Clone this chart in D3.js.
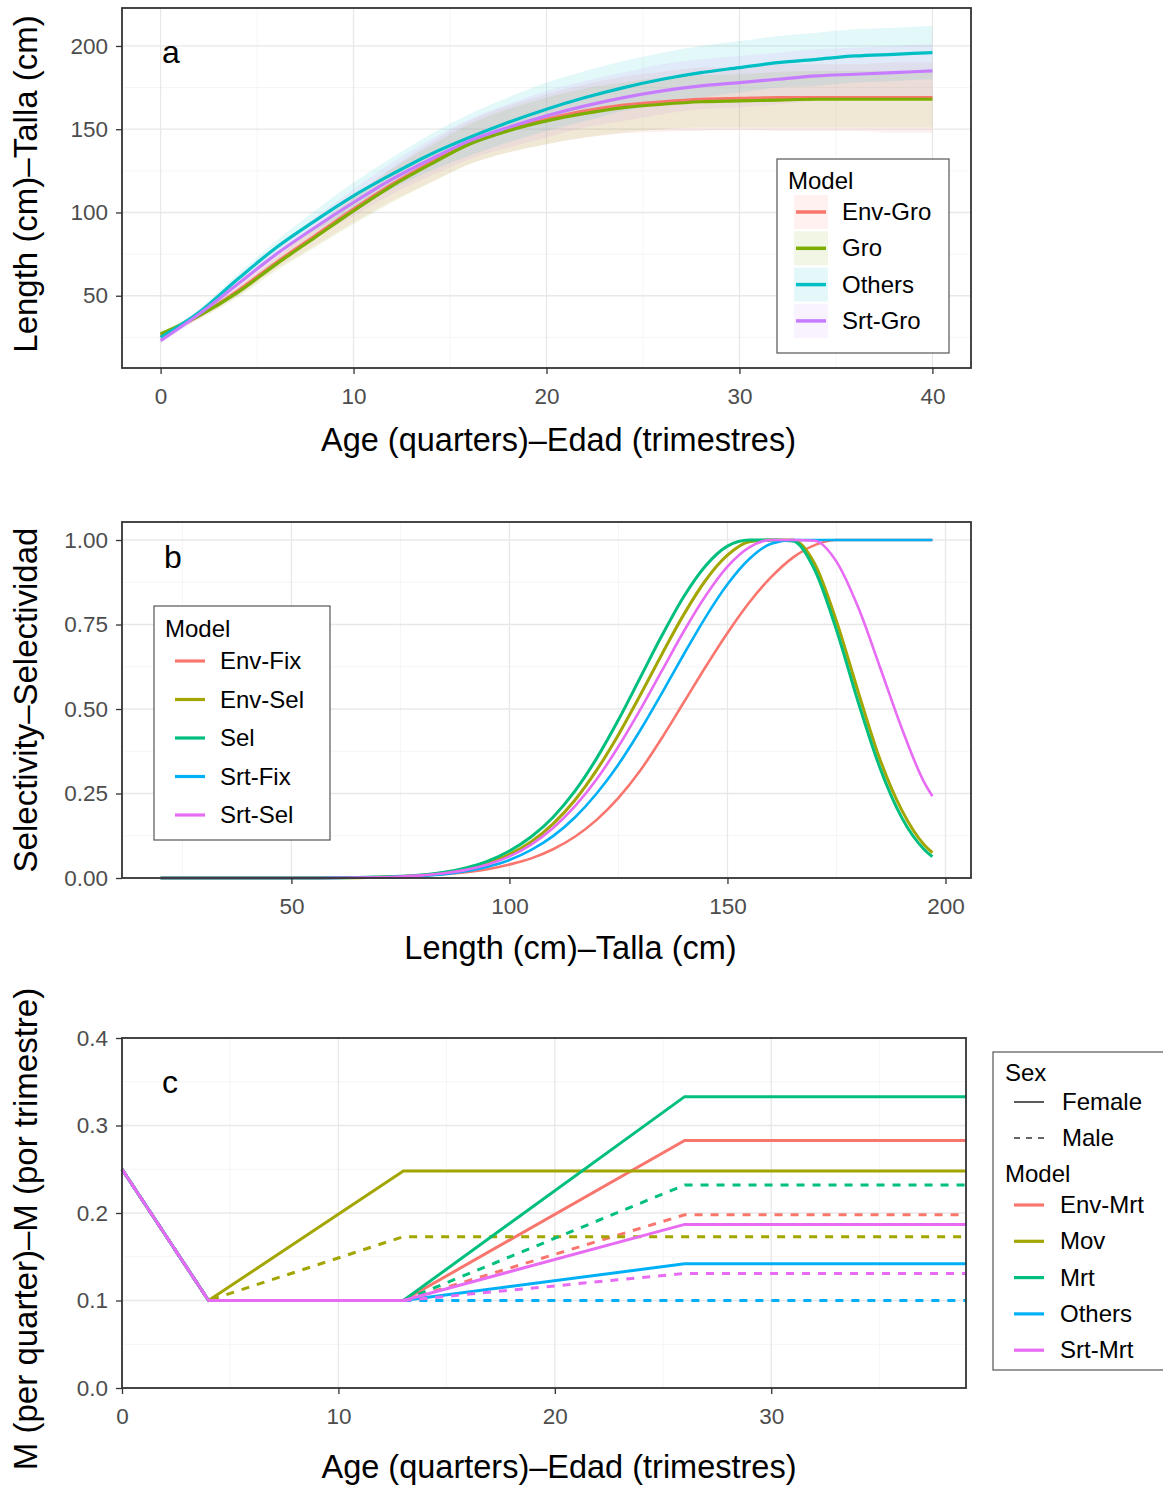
<!DOCTYPE html>
<html>
<head>
<meta charset="utf-8">
<script src="https://cdn.jsdelivr.net/npm/d3@7"></script>
<style>
  body { margin: 0; background: #fff; }
  text { font-family: "Liberation Sans", Arial, sans-serif; }
</style>
</head>
<body>
<div id="canvas"></div>
<script>
// ////////// DATA /////////////

// panel a - growth curves (age in quarters, length in cm)
var agesA = [0, 2, 4, 6, 8, 10, 12, 14, 16, 18, 20, 22, 24, 26, 28, 30, 32, 34, 36, 38, 40];
var growthModels = ["Env-Gro", "Gro", "Others", "Srt-Gro"];

var envGroMid = [26, 38, 53, 70, 86, 102, 117, 130, 142, 150, 156, 161, 164.5, 166.5, 168, 168.5, 169, 169, 169, 169, 169];
var envGroLo  = [24.5, 36, 50, 66, 80, 94, 107, 118, 129, 136, 141, 145, 147.5, 148.5, 149, 149.5, 149, 149, 149, 148, 148];
var envGroHi  = [27.5, 40, 56, 74, 92, 110, 127, 142, 155, 164, 171, 177, 181.5, 184.5, 187, 187.5, 189, 189, 189, 190, 190];

var groMid = [27, 38, 52, 69, 85, 101, 116, 129, 141, 149, 155, 159.5, 163, 165, 166.5, 167, 167.5, 168, 168, 168, 168];
var groLo  = [25.5, 36, 49, 65, 79, 93, 106, 118, 129, 136, 141, 145, 148, 150, 151, 151, 151, 151, 151, 151, 151];
var groHi  = [28.5, 40, 55, 73, 91, 109, 126, 140, 153, 162, 169, 174.5, 178, 181, 182.5, 183, 184.5, 185, 185, 185, 185];

var othersMid = [25, 40, 60, 79, 95, 110, 123, 135, 145, 154, 162, 169, 175, 180, 184, 187, 190, 192, 194, 195, 196];
var othersLo  = [23.5, 38, 57, 75, 89, 102, 114, 125, 134, 142, 149, 155, 161, 165, 169, 172, 175, 176, 178, 179, 180];
var othersHi  = [26.5, 42, 63, 83, 101, 118, 133, 147, 159, 169, 178, 185, 191, 196, 200, 203, 206, 208, 210, 211, 212];

var srtGroMid = [23, 39, 57, 75, 91, 106, 120, 132, 143, 151, 158, 164, 169, 173, 176, 178, 180, 182, 183, 184, 185];
var srtGroLo  = [21.5, 37, 54, 71, 85, 98, 111, 122, 132, 139, 145, 151, 155, 159, 162, 163, 165, 167, 168, 169, 170];
var srtGroHi  = [24.5, 41, 60, 79, 97, 114, 130, 144, 156, 165, 173, 179, 184, 189, 192, 194, 196, 198, 199, 200, 201];

// panel b - selectivity at length
var lengthsB = [20, 25, 30, 35, 40, 45, 50, 55, 60, 65, 70, 75, 80, 85, 90, 95, 100, 105, 110, 115, 120,
  125, 130, 135, 140, 145, 150, 155, 160, 165, 170, 175, 180, 185, 190, 195, 197];
var selModels = ["Env-Fix", "Env-Sel", "Sel", "Srt-Fix", "Srt-Sel"];

var envFix = [0, 0, 0, 0, 0, 0, 0, 0, 0.0006, 0.0012, 0.0022, 0.004, 0.007, 0.011, 0.017, 0.026, 0.04, 0.058, 0.085, 0.122, 0.172,
  0.237, 0.318, 0.415, 0.52, 0.625, 0.725, 0.815, 0.89, 0.948, 0.985, 1, 1, 1, 1, 1, 1];
var envSel = [0, 0, 0, 0, 0, 0, 0, 0, 0.0004, 0.001, 0.002, 0.004, 0.008, 0.015, 0.026, 0.044, 0.07, 0.107, 0.16, 0.23, 0.319,
  0.424, 0.541, 0.663, 0.78, 0.881, 0.955, 0.995, 1, 1, 0.93, 0.76, 0.55, 0.35, 0.2, 0.1, 0.075];
var sel = [0, 0, 0, 0, 0, 0, 0, 0, 0.0004, 0.0012, 0.003, 0.005, 0.009, 0.017, 0.03, 0.05, 0.08, 0.122, 0.18, 0.257, 0.354,
  0.468, 0.593, 0.718, 0.833, 0.924, 0.982, 1, 1, 0.997, 0.912, 0.734, 0.52, 0.325, 0.178, 0.086, 0.063];
var srtFix = [0, 0, 0, 0, 0, 0, 0, 0, 0.0004, 0.0009, 0.0018, 0.0034, 0.0064, 0.0114, 0.0198, 0.033, 0.053, 0.083, 0.124, 0.179, 0.25,
  0.336, 0.437, 0.548, 0.662, 0.772, 0.869, 0.944, 0.989, 1, 1, 1, 1, 1, 1, 1, 1];
var srtSel = [0, 0, 0, 0, 0, 0, 0, 0, 0.0005, 0.0011, 0.0021, 0.0042, 0.0077, 0.0139, 0.024, 0.04, 0.064, 0.099, 0.148, 0.212, 0.292,
  0.389, 0.498, 0.614, 0.73, 0.835, 0.921, 0.978, 1, 1, 0.998, 0.936, 0.8, 0.623, 0.442, 0.286, 0.242];

// panel c - natural mortality at age
var agesC = [0, 4, 13, 26, 39];
var mortModels = ["Env-Mrt", "Mov", "Mrt", "Others", "Srt-Mrt"];
var sexes = ["Female", "Male"];

var envMrtF = [0.25, 0.1, 0.1, 0.283, 0.283];
var envMrtM = [0.25, 0.1, 0.1, 0.198, 0.198];
var movF = [0.25, 0.1, 0.248, 0.248, 0.248];
var movM = [0.25, 0.1, 0.173, 0.173, 0.173];
var mrtF = [0.25, 0.1, 0.1, 0.333, 0.333];
var mrtM = [0.25, 0.1, 0.1, 0.232, 0.232];
var othersF = [0.25, 0.1, 0.1, 0.142, 0.142];
var othersM = [0.25, 0.1, 0.1, 0.1, 0.1];
var srtMrtF = [0.25, 0.1, 0.1, 0.187, 0.187];
var srtMrtM = [0.25, 0.1, 0.1, 0.131, 0.131];


///////// GLOBAL VARS //////////

var W = 1163, H = 1486;
var pal4 = ["#F8766D", "#7CAE00", "#00BFC4", "#C77CFF"];
var pal5 = ["#F8766D", "#A3A500", "#00BF7D", "#00B0F6", "#E76BF3"];
var tickFont = 22.5, titleFont = 32.5, legendFont = 24;

var svg = d3.select("#canvas")
  .append("svg")
  .attr("width", W)
  .attr("height", H)
  .style("background-color", "#fff");

// draws grid, border, axes and titles for one panel
function panel(o) {
  var x = d3.scaleLinear().domain(o.xDomain).range([o.left, o.right]);
  var y = d3.scaleLinear().domain(o.yDomain).range([o.bottom, o.top]);
  var g = svg.append("g");

  // minor grid
  g.selectAll(".vminor").data(o.xMinor).join("line")
    .attr("x1", d => x(d)).attr("x2", d => x(d))
    .attr("y1", o.top).attr("y2", o.bottom)
    .attr("stroke", "#F2F2F2").attr("stroke-width", 0.8);
  g.selectAll(".hminor").data(o.yMinor).join("line")
    .attr("y1", d => y(d)).attr("y2", d => y(d))
    .attr("x1", o.left).attr("x2", o.right)
    .attr("stroke", "#F2F2F2").attr("stroke-width", 0.8);
  // major grid
  g.selectAll(".vmajor").data(o.xTicks).join("line")
    .attr("x1", d => x(d)).attr("x2", d => x(d))
    .attr("y1", o.top).attr("y2", o.bottom)
    .attr("stroke", "#E8E8E8").attr("stroke-width", 1.3);
  g.selectAll(".hmajor").data(o.yTicks).join("line")
    .attr("y1", d => y(d)).attr("y2", d => y(d))
    .attr("x1", o.left).attr("x2", o.right)
    .attr("stroke", "#E8E8E8").attr("stroke-width", 1.3);

  var plot = svg.append("g");

  // axes
  var ax = svg.append("g")
    .attr("transform", `translate(0,${o.bottom})`)
    .call(d3.axisBottom(x).tickValues(o.xTicks).tickSize(6).tickPadding(14).tickFormat(d3.format("d")));
  var ay = svg.append("g")
    .attr("transform", `translate(${o.left},0)`)
    .call(d3.axisLeft(y).tickValues(o.yTicks).tickSize(6).tickPadding(8).tickFormat(o.yFormat));
  [ax, ay].forEach(a => {
    a.select(".domain").remove();
    a.selectAll("line").attr("stroke", "#333").attr("stroke-width", 1.3);
    a.selectAll("text").attr("fill", "#4D4D4D")
      .style("font-size", tickFont + "px")
      .style("font-family", '"Liberation Sans", Arial, sans-serif');
  });

  // border
  svg.append("rect")
    .attr("x", o.left).attr("y", o.top)
    .attr("width", o.right - o.left).attr("height", o.bottom - o.top)
    .attr("fill", "none").attr("stroke", "#333").attr("stroke-width", 1.8);

  // titles
  svg.append("text")
    .attr("x", (o.left + o.right) / 2 + (o.xTitleShift || 0)).attr("y", o.xTitleY)
    .attr("text-anchor", "middle").attr("font-size", titleFont)
    .text(o.xTitle);
  svg.append("text")
    .attr("transform", `translate(37,${o.yTitleMid}) rotate(-90)`)
    .attr("text-anchor", "middle").attr("font-size", titleFont + 0.5)
    .text(o.yTitle);
  svg.append("text")
    .attr("x", o.letterX).attr("y", o.letterY)
    .attr("font-size", 32)
    .text(o.letter);

  return { x: x, y: y, g: plot };
}

// legend box and text helpers
function legendBox(x0, y0, w, h) {
  svg.append("rect")
    .attr("x", x0).attr("y", y0).attr("width", w).attr("height", h)
    .attr("fill", "#fff").attr("stroke", "#555").attr("stroke-width", 1.2);
}

function legendText(x0, y0, label) {
  svg.append("text")
    .attr("x", x0).attr("y", y0)
    .attr("font-size", legendFont)
    .text(label);
}


/////// PANEL A ///////

var pa = panel({
  left: 122, right: 971, top: 8, bottom: 368,
  xDomain: [-2, 42], yDomain: [6.6, 222.8],
  xTicks: [0, 10, 20, 30, 40], xMinor: [5, 15, 25, 35],
  yTicks: [50, 100, 150, 200], yMinor: [25, 75, 125, 175],
  yFormat: d3.format("d"),
  xTitle: "Age (quarters)\u2013Edad (trimestres)", xTitleY: 451, xTitleShift: 12,
  yTitle: "Length (cm)\u2013Talla (cm)", yTitleMid: 184,
  letter: "a", letterX: 162, letterY: 63
});

var growth = [
  { mid: envGroMid, lo: envGroLo, hi: envGroHi },
  { mid: groMid, lo: groLo, hi: groHi },
  { mid: othersMid, lo: othersLo, hi: othersHi },
  { mid: srtGroMid, lo: srtGroLo, hi: srtGroHi }
];

var areaA = d3.area()
  .x((d, i) => pa.x(agesA[i]))
  .curve(d3.curveMonotoneX);

growth.forEach((s, k) => {
  pa.g.append("path")
    .datum(agesA)
    .attr("d", areaA.y0((d, i) => pa.y(s.lo[i])).y1((d, i) => pa.y(s.hi[i])))
    .attr("fill", pal4[k])
    .attr("opacity", 0.11);
});

var lineA = d3.line()
  .x((d, i) => pa.x(agesA[i]))
  .y(d => pa.y(d))
  .curve(d3.curveMonotoneX);

growth.forEach((s, k) => {
  pa.g.append("path")
    .attr("d", lineA(s.mid))
    .attr("fill", "none")
    .attr("stroke", pal4[k])
    .attr("stroke-width", 3.2);
});

// legend a
legendBox(777, 159, 172, 194);
legendText(788, 189, "Model");
growthModels.forEach((m, i) => {
  var cy = 212 + i * 36.3;
  svg.append("rect")
    .attr("x", 794).attr("y", cy - 17).attr("width", 34).attr("height", 34)
    .attr("fill", pal4[i]).attr("opacity", 0.1);
  svg.append("line")
    .attr("x1", 796).attr("x2", 826).attr("y1", cy).attr("y2", cy)
    .attr("stroke", pal4[i]).attr("stroke-width", 3.5);
  legendText(842, cy + 8, m);
});


/////// PANEL B ///////

var pb = panel({
  left: 122, right: 971, top: 522, bottom: 878,
  xDomain: [11.15, 205.85], yDomain: [0, 1.0533],
  xTicks: [50, 100, 150, 200], xMinor: [25, 75, 125, 175],
  yTicks: [0, 0.25, 0.5, 0.75, 1], yMinor: [0.125, 0.375, 0.625, 0.875],
  yFormat: d3.format(".2f"),
  xTitle: "Length (cm)\u2013Talla (cm)", xTitleY: 959, xTitleShift: 24,
  yTitle: "Selectivity\u2013Selectividad", yTitleMid: 700,
  letter: "b", letterX: 164, letterY: 568
});

var selSeries = [envFix, envSel, sel, srtFix, srtSel];
var lineB = d3.line()
  .x((d, i) => pb.x(lengthsB[i]))
  .y(d => pb.y(d))
  .curve(d3.curveMonotoneX);

selSeries.forEach((s, k) => {
  pb.g.append("path")
    .attr("d", lineB(s))
    .attr("fill", "none")
    .attr("stroke", pal5[k])
    .attr("stroke-width", k == 2 || k == 1 ? 3 : 2.6);
});

// legend b
legendBox(154, 606, 176, 234);
legendText(165, 637, "Model");
selModels.forEach((m, i) => {
  var cy = 661 + i * 38.5;
  svg.append("line")
    .attr("x1", 175).attr("x2", 205).attr("y1", cy).attr("y2", cy)
    .attr("stroke", pal5[i]).attr("stroke-width", 3.2);
  legendText(220, cy + 8, m);
});


/////// PANEL C ///////

var pc = panel({
  left: 122, right: 966, top: 1038, bottom: 1388,
  xDomain: [0, 39], yDomain: [0, 0.4],
  xTicks: [0, 10, 20, 30], xMinor: [5, 15, 25, 35],
  yTicks: [0, 0.1, 0.2, 0.3, 0.4], yMinor: [0.05, 0.15, 0.25, 0.35],
  yFormat: d3.format(".1f"),
  xTitle: "Age (quarters)\u2013Edad (trimestres)", xTitleY: 1478, xTitleShift: 15,
  yTitle: "M (per quarter)\u2013M (por trimestre)", yTitleMid: 1229,
  letter: "c", letterX: 162, letterY: 1093
});

var mort = [
  [envMrtF, envMrtM],
  [movF, movM],
  [mrtF, mrtM],
  [othersF, othersM],
  [srtMrtF, srtMrtM]
];

var lineC = d3.line()
  .x((d, i) => pc.x(agesC[i]))
  .y(d => pc.y(d));

mort.forEach((pair, k) => {
  pair.forEach((s, j) => {
    pc.g.append("path")
      .attr("d", lineC(s))
      .attr("fill", "none")
      .attr("stroke", pal5[k])
      .attr("stroke-width", 3)
      .attr("stroke-dasharray", j == 1 ? "8,8" : null);
  });
});

// legend c
legendBox(993, 1052, 185, 318);
legendText(1005, 1081, "Sex");
sexes.forEach((s, i) => {
  var cy = 1102 + i * 36;
  svg.append("line")
    .attr("x1", 1014).attr("x2", 1044).attr("y1", cy).attr("y2", cy)
    .attr("stroke", "#333").attr("stroke-width", 1.6)
    .attr("stroke-dasharray", i == 1 ? "6,6" : null);
  legendText(1062, cy + 8, s);
});
legendText(1005, 1182, "Model");
mortModels.forEach((m, i) => {
  var cy = 1205 + i * 36.3;
  svg.append("line")
    .attr("x1", 1014).attr("x2", 1044).attr("y1", cy).attr("y2", cy)
    .attr("stroke", pal5[i]).attr("stroke-width", 3.2);
  legendText(1060, cy + 8, m);
});
</script>
</body>
</html>
